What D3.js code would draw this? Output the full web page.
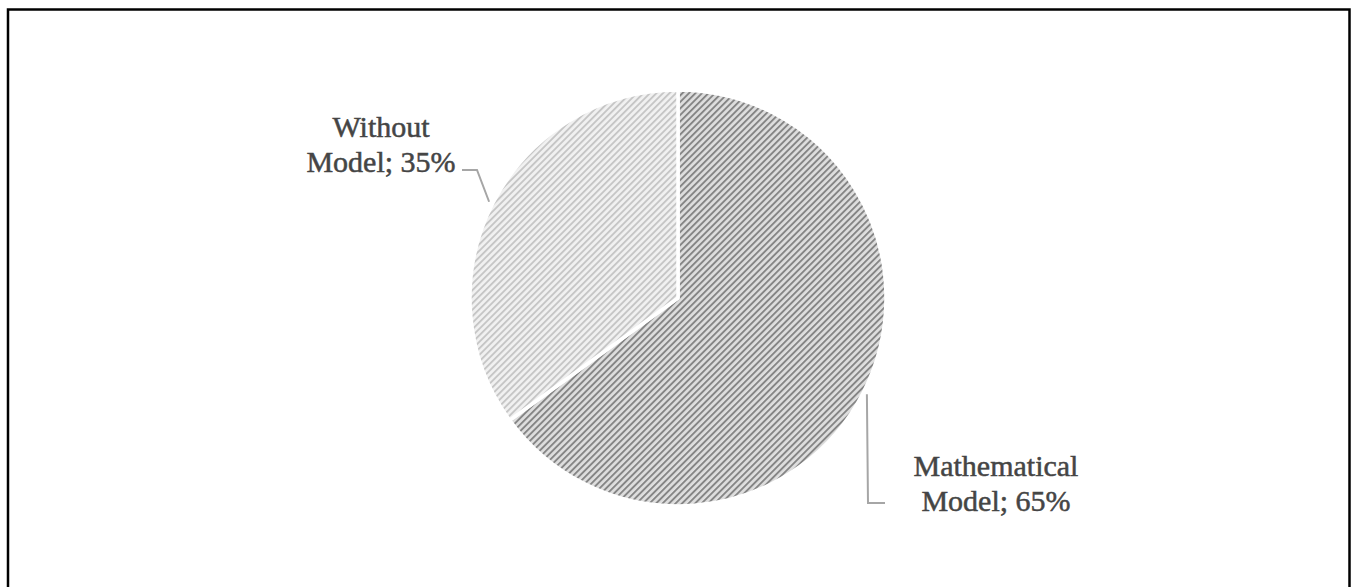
<!DOCTYPE html>
<html>
<head>
<meta charset="utf-8">
<script src="https://cdn.jsdelivr.net/npm/d3@7"></script>
<style>
  html, body { margin: 0; padding: 0; background: #fff; }
  svg { display: block; }
</style>
</head>
<body>
<svg id="chart" width="1354" height="587"></svg>
<script>
// ---- data ----
const categories = ["Mathematical Model", "Without Model"];
const values = [65, 35];
const labelLines = [["Mathematical", "Model; 65%"], ["Without", "Model; 35%"]];

// ---- layout ----
const W = 1354, H = 587;
const cx = 678, cy = 298, R = 208;
const svg = d3.select("#chart");

// frame
svg.append("path")
  .attr("d", `M8,600 L8,9.5 L1349.5,9.5 L1349.5,600`)
  .attr("fill", "none").attr("stroke", "#000").attr("stroke-width", 2.5);

// hatch patterns
const defs = svg.append("defs");
const pats = [
  { id: "hatchDark", bg: "#dedede", fg: "#858585" },
  { id: "hatchLight", bg: "#f1f1f1", fg: "#c6c6c6" }
];
pats.forEach(p => {
  const pat = defs.append("pattern")
    .attr("id", p.id).attr("patternUnits", "userSpaceOnUse")
    .attr("width", 4.6).attr("height", 4.6)
    .attr("patternTransform", "rotate(45)");
  pat.append("rect").attr("width", 4.6).attr("height", 4.6).attr("fill", p.bg);
  pat.append("rect").attr("x", 0).attr("y", 0).attr("width", 1.9).attr("height", 4.6).attr("fill", p.fg);
});

const pie = d3.pie().sort(null).value(d => d)(values);
const arc = d3.arc().innerRadius(0).outerRadius(R);

const g = svg.append("g").attr("transform", `translate(${cx},${cy})`);
g.selectAll("path.slice").data(pie).join("path")
  .attr("class", "slice")
  .attr("d", arc)
  .attr("fill", (d, i) => `url(#${pats[i].id})`)
  .attr("stroke", "#fff").attr("stroke-width", 3.5).attr("stroke-linejoin", "round");

// labels
const fontSize = 30;
const lineH = 35;
const labelPos = [ // label centre x, first baseline y (absolute)
  { x: 996, y: 476, elbow: [868, 503], end: [885, 503] },
  { x: 381, y: 137, elbow: [477, 170], end: [462, 170] }
];

pie.forEach((d, i) => {
  const mid = (d.startAngle + d.endAngle) / 2;
  const sx = cx + Math.sin(mid) * (R + 4);
  const sy = cy - Math.cos(mid) * (R + 4);
  const lp = labelPos[i];
  svg.append("polyline")
    .attr("points", `${sx},${sy} ${lp.elbow[0]},${lp.elbow[1]} ${lp.end[0]},${lp.end[1]}`)
    .attr("fill", "none").attr("stroke", "#a6a6a6").attr("stroke-width", 2);
  const t = svg.append("text")
    .attr("text-anchor", "middle")
    .attr("font-family", "'Liberation Serif', 'DejaVu Serif', serif")
    .attr("font-size", fontSize)
    .attr("fill", "#454545")
    .attr("stroke", "#454545").attr("stroke-width", 0.5);
  labelLines[i].forEach((ln, k) => {
    t.append("tspan").attr("x", lp.x).attr("y", lp.y + k * lineH).text(ln);
  });
});
</script>
</body>
</html>
